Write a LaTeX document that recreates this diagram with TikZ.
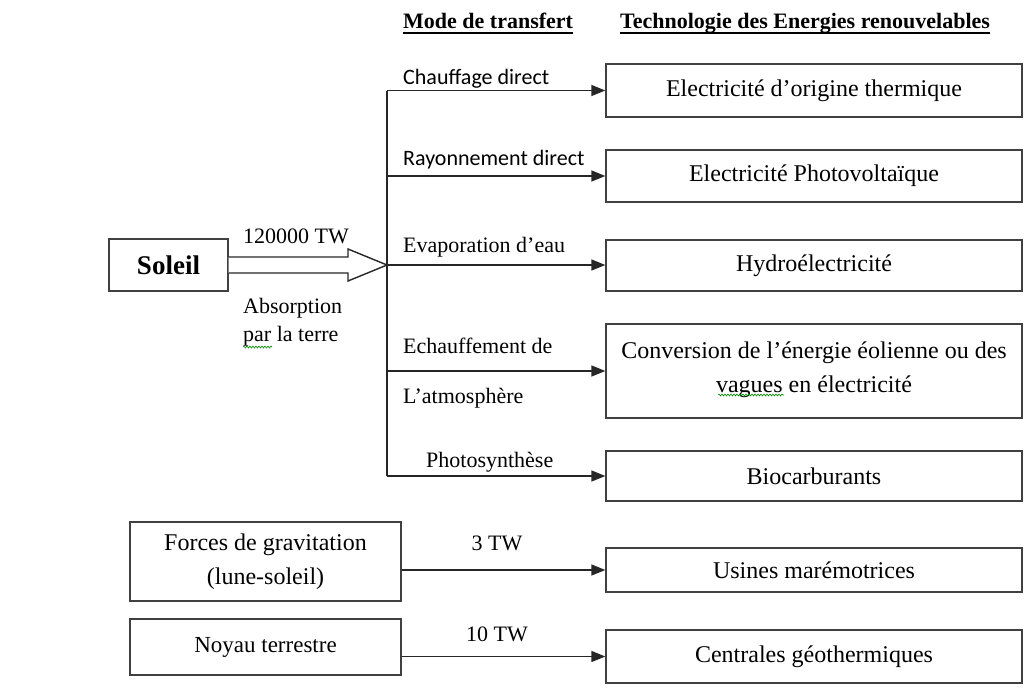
\documentclass[tikz,border=0pt]{standalone}
\usepackage{fontspec}
\setmainfont{Liberation Serif}
\newfontfamily\calib{Carlito}
\usetikzlibrary{arrows.meta,decorations.pathmorphing}
\begin{document}
\begin{tikzpicture}[x=1pt,y=-1pt,
  box/.style={draw=black!75, line width=1.3pt, align=center, inner sep=0pt,
    font=\fontsize{24}{34}\selectfont},
  rbox/.style={box, minimum width=416pt},
  lbl/.style={inner sep=0pt, anchor=base west, font=\fontsize{22}{34}\selectfont},
  hdr/.style={inner sep=0pt, anchor=base west, font=\fontsize{22}{26}\selectfont\bfseries},
  conn/.style={draw=black!85, line width=1.4pt},
  arr/.style={conn, -{Triangle[length=14pt,width=11pt]}},
  wavy/.style={draw=green!55!black, line width=0.6pt,
    decorate, decoration={snake, amplitude=1pt, segment length=3pt}}
]
\useasboundingbox (0,0) rectangle (1034,694);

% headers
\node[hdr] (h1) at (403,28) {Mode de transfert};
\node[hdr] (h2) at (620,28) {Technologie des Energies renouvelables};
\draw[line width=1.8pt] ([yshift=-5pt]h1.base west) -- ([yshift=-5pt]h1.base east);
\draw[line width=1.8pt] ([yshift=-5pt]h2.base west) -- ([yshift=-5pt]h2.base east);

% right boxes
\node[rbox, minimum height=53pt] (b1) at (814,90.5) {Electricité d’origine thermique};
\node[rbox, minimum height=52pt] (b2) at (814,176) {Electricité Photovoltaïque};
\node[rbox, minimum height=51pt] (b3) at (814,265.5) {Hydroélectricité};
\node[rbox, minimum height=94pt] (b4) at (814,371) {Conversion de l’énergie éolienne ou des\\vagues en électricité\\[-26pt]};
\node[rbox, minimum height=50pt] (b5) at (814,476) {Biocarburants};
\node[rbox, minimum height=44pt] (b6) at (814,570) {Usines marémotrices};
\node[rbox, minimum height=53pt] (b7) at (814,656.5) {Centrales géothermiques};

% left boxes
\node[box, minimum width=119pt, minimum height=52pt, font=\fontsize{27}{30}\selectfont\bfseries] (soleil) at (168.5,265) {Soleil};
\node[box, minimum width=271pt, minimum height=79pt] (forces) at (265.5,561.5) {Forces de gravitation\\(lune-soleil)};
\node[box, minimum width=271pt, minimum height=56pt, font=\fontsize{23}{30}\selectfont] (noyau) at (265.5,647) {Noyau terrestre};

% hollow arrow from the sun
\coordinate (j) at (387,265);
\draw[conn, line join=miter, fill=white] ([yshift=8pt]soleil.east) -- (348,257) -- (348,249) -- (j)
  -- (348,281) -- (348,273) -- ([yshift=-8pt]soleil.east);
\node[lbl] (p1) at (243,243) {120000 TW};
\node[lbl] (p2) at (243,313) {Absorption};
\node[lbl] (p3) at (243,341) {par la terre};
\draw[wavy] (243,347) -- (272,347);

% distribution
\draw[conn] (j |- b1.west) -- (j |- b5.west);
\draw[arr] (j |- b1.west) -- (b1.west);
\draw[arr] (j |- b2.west) -- (b2.west);
\draw[arr] (j) -- (j -| b3.west);
\draw[arr] (j |- b4.west) -- (b4.west);
\draw[arr] (j |- b5.west) -- (b5.west);

\node[lbl, font=\fontsize{22}{26}\calib] (m1) at (403,84) {Chauffage direct};
\node[lbl, font=\fontsize{22}{26}\calib] (m2) at (403,165) {Rayonnement direct};
\node[lbl] (m3) at (403,252) {Evaporation d’eau};
\node[lbl] (m4) at (403,353) {Echauffement de};
\node[lbl] (m5) at (403,403) {L’atmosphère};
\node[lbl] (m6) at (426,467) {Photosynthèse};
\draw[wavy] (718,395) -- (784,395);

% other sources
\draw[arr] (forces.east |- b6.west) -- (b6.west);
\draw[arr] (noyau.east |- b7.west) -- (b7.west);
\node[lbl, anchor=base] (w1) at (497,550) {3 TW};
\node[lbl, anchor=base] (w2) at (497,641) {10 TW};
\end{tikzpicture}
\end{document}
